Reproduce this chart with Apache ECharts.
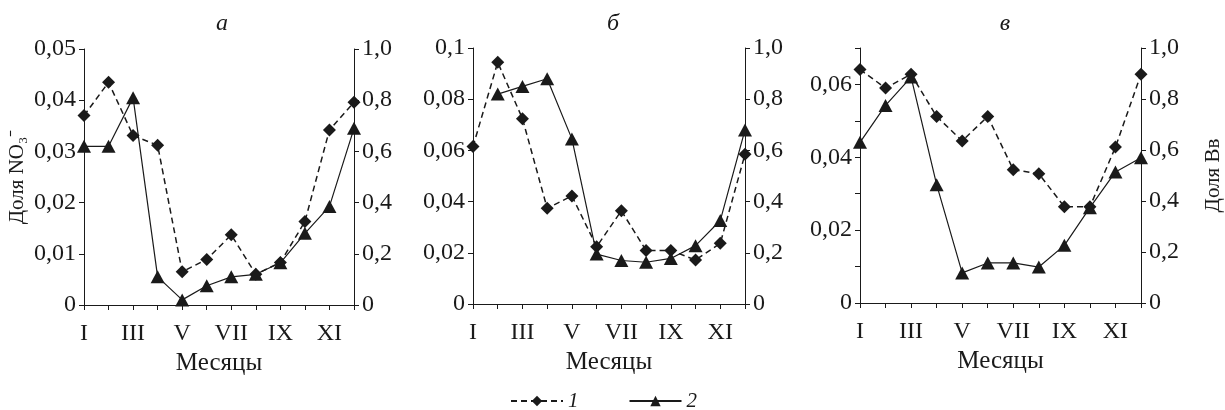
<!DOCTYPE html>
<html>
<head>
<meta charset="utf-8">
<script src="https://cdn.jsdelivr.net/npm/echarts@6/dist/echarts.min.js"></script>
<style>
  html, body { margin: 0; background: #fff; }
  #chart { width: 1225px; height: 410px; }
</style>
</head>
<body>
<div id="chart"></div>
<script>
// месяцы
const months = ['I', 'II', 'III', 'IV', 'V', 'VI', 'VII', 'VIII', 'IX', 'X', 'XI', 'XII']
const panelTitles = ['а', 'б', 'в']

// 1 — доля NO3 (левая ось)
const no3A = [0.0370, 0.0435, 0.0331, 0.0312, 0.0065, 0.0089, 0.0137, 0.0060, 0.0083, 0.0163, 0.0342, 0.0396]
const no3B = [0.0615, 0.0944, 0.0724, 0.0374, 0.0422, 0.0224, 0.0364, 0.0209, 0.0209, 0.0172, 0.0237, 0.0585]
const no3C = [0.0641, 0.0590, 0.0628, 0.0512, 0.0445, 0.0512, 0.0366, 0.0355, 0.0264, 0.0264, 0.0428, 0.0628]

// 2 — доля Вв (правая ось)
const bvA = [0.62, 0.62, 0.81, 0.11, 0.02, 0.075, 0.11, 0.12, 0.165, 0.28, 0.385, 0.69]
const bvB = [null, 0.82, 0.85, 0.88, 0.645, 0.195, 0.17, 0.163, 0.178, 0.228, 0.326, 0.68]
const bvC = [0.63, 0.775, 0.886, 0.464, 0.118, 0.157, 0.157, 0.141, 0.226, 0.374, 0.514, 0.57]

// подписи делений
const leftTicksA = ['0', '0,01', '0,02', '0,03', '0,04', '0,05']
const leftTicksB = ['0', '0,02', '0,04', '0,06', '0,08', '0,1']
const leftTicksC = ['0', '', '0,02', '', '0,04', '', '0,06', '']
const rightTicks = ['0', '0,2', '0,4', '0,6', '0,8', '1,0']

const FONT = 'Liberation Serif'
const INK = '#1a1a1a'

const grids = [
  { left: 84, top: 49, width: 270, height: 256 },
  { left: 473, top: 48, width: 272, height: 256 },
  { left: 860, top: 48, width: 282, height: 255 },
]
const titleX = [217, 608, 1000]
const leftMax = [0.05, 0.1, 0.07]
const leftStep = [0.01, 0.02, 0.01]
const leftTicks = [leftTicksA, leftTicksB, leftTicksC]
const no3 = [no3A, no3B, no3C]
const bv = [bvA, bvB, bvC]

const axisLine = { show: true, lineStyle: { color: INK, width: 1 } }
const axisTick = { show: true, length: 5, lineStyle: { color: INK } }
const labelStyle = { color: INK, fontFamily: FONT, fontSize: 24 }

const xAxis = grids.map((g, i) => ({
  gridIndex: i,
  type: 'category',
  data: months,
  boundaryGap: false,
  name: 'Месяцы',
  nameLocation: 'middle',
  nameGap: 42,
  nameTextStyle: { ...labelStyle, fontSize: 25 },
  axisLine,
  axisTick: { ...axisTick, interval: 0 },
  axisLabel: { ...labelStyle, interval: 1, margin: 17 },
  splitLine: { show: false },
}))

const yAxis = []
grids.forEach((g, i) => {
  yAxis.push({
    gridIndex: i,
    type: 'value',
    position: 'left',
    min: 0,
    max: leftMax[i],
    interval: leftStep[i],
    name: i === 0 ? 'Доля NO₃⁻' : '',
    nameLocation: 'middle',
    nameRotate: 90,
    nameGap: 56,
    nameTextStyle: { ...labelStyle, fontSize: 21 },
    axisLine,
    axisTick,
    axisLabel: { ...labelStyle, margin: 8, formatter: (v, idx) => leftTicks[i][idx] },
    splitLine: { show: false },
  })
  yAxis.push({
    gridIndex: i,
    type: 'value',
    position: 'right',
    min: 0,
    max: 1,
    interval: 0.2,
    name: i === 2 ? 'Доля Вв' : '',
    nameLocation: 'middle',
    nameRotate: 90,
    nameGap: 62,
    nameTextStyle: { ...labelStyle, fontSize: 21 },
    axisLine,
    axisTick,
    axisLabel: { ...labelStyle, margin: 8, formatter: (v, idx) => rightTicks[idx] },
    splitLine: { show: false },
  })
})

const series = []
grids.forEach((g, i) => {
  series.push({
    name: '1',
    type: 'line',
    xAxisIndex: i,
    yAxisIndex: i * 2,
    data: no3[i],
    symbol: 'diamond',
    symbolSize: 13,
    itemStyle: { color: INK },
    lineStyle: { color: INK, width: 1.5, type: [6, 4] },
  })
  series.push({
    name: '2',
    type: 'line',
    xAxisIndex: i,
    yAxisIndex: i * 2 + 1,
    data: bv[i],
    symbol: 'triangle',
    symbolSize: [14, 13],
    itemStyle: { color: INK },
    lineStyle: { color: INK, width: 1.2 },
  })
})

const chart = echarts.init(document.getElementById('chart'))
chart.setOption({
  animation: false,
  backgroundColor: '#fff',
  title: panelTitles.map((t, i) => ({
    text: t,
    left: titleX[i],
    top: 7,
    textAlign: 'center',
    textStyle: { fontFamily: FONT, fontSize: 24, fontStyle: 'italic', fontWeight: 'normal', color: INK },
  })),
  grid: grids,
  xAxis,
  yAxis,
  legend: {
    left: 510,
    top: 390,
    padding: 0,
    itemWidth: 52,
    itemHeight: 13,
    itemGap: 50,
    textStyle: { ...labelStyle, fontSize: 21, fontStyle: 'italic', lineHeight: 22 },
    data: ['1', '2'],
  },
  series,
})
</script>
</body>
</html>
